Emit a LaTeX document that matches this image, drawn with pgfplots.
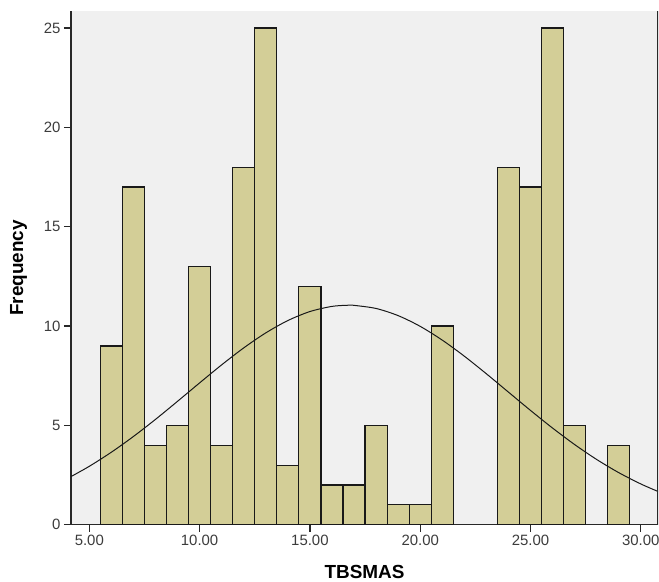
\documentclass[border=0pt]{standalone}
\usepackage{pgfplots}
\pgfplotsset{compat=1.18}
\usepackage{fontspec}
\setmainfont{Liberation Sans}
\definecolor{barfill}{RGB}{211,206,151}
\definecolor{bggray}{RGB}{240,240,240}
\definecolor{axiscol}{RGB}{40,40,40}
\definecolor{tickcol}{RGB}{60,60,60}
\begin{document}
\begin{tikzpicture}
\begin{axis}[
  at={(0,0)}, anchor=south west,
  scale only axis,
  width=587bp, height=513.7bp,
  xmin=4.17, xmax=30.78,
  ymin=0, ymax=25.86,
  axis x line*=bottom, axis y line*=left,
  axis line style={axiscol, line width=1.2bp},
  axis background/.style={fill=bggray},
  tick align=outside,
  major tick length=7bp,
  every tick/.style={axiscol, line width=1.2bp},
  xtick={5,10,15,20,25,30},
  ytick={0,5,10,15,20,25},
  minor tick num=0,
  /pgf/number format/assume math mode=true,
  xticklabel={\pgfmathprintnumber[fixed,fixed zerofill,precision=2]{\tick}},
  yticklabel={\pgfmathprintnumber[fixed,precision=0]{\tick}},
  ticklabel style={font=\fontsize{15}{18}\selectfont, text=tickcol},
  xlabel={TBSMAS}, ylabel={Frequency},
  xlabel style={at={(axis description cs:0.5,-0.0921)}, anchor=center, font=\fontsize{19}{22}\selectfont\bfseries},
  ylabel style={at={(axis description cs:-0.0894,0.5)}, anchor=center, font=\fontsize{19}{22}\selectfont\bfseries},
]
\addplot[ybar, bar width=1, bar shift=0pt, fill=barfill, draw=black!90, line width=1.2bp]
coordinates {
(6,9) (7,17) (8,4) (9,5) (10,13) (11,4) (12,18) (13,25) (14,3) (15,12)
(16,2) (17,2) (18,5) (19,1) (20,1) (21,10)
(24,18) (25,17) (26,25) (27,5) (29,4)
};
\addplot[smooth, black!90, line width=1bp, mark=none]
coordinates {
(4.17,2.423) (5,2.940) (6,3.649) (7,4.441) (8,5.302) (9,6.212) (10,7.138)
(11,8.047) (12,8.900) (13,9.656) (14,10.277) (15,10.730) (16,10.990)
(16.75,11.049) (17,11.042) (18,10.885) (19,10.525) (20,9.985) (21,9.292)
(22,8.483) (23,7.597) (24,6.675) (25,5.753) (26,4.865) (27,4.035)
(28,3.283) (29,2.621) (30,2.052) (30.78,1.674)
};
\draw[axiscol, line width=1.2bp] (rel axis cs:1,0) -- (rel axis cs:1,1);
\end{axis}
\pgfresetboundingbox
\path[use as bounding box] (-71bp,-57.3bp) rectangle (588bp,524.7bp);
\end{tikzpicture}
\end{document}
